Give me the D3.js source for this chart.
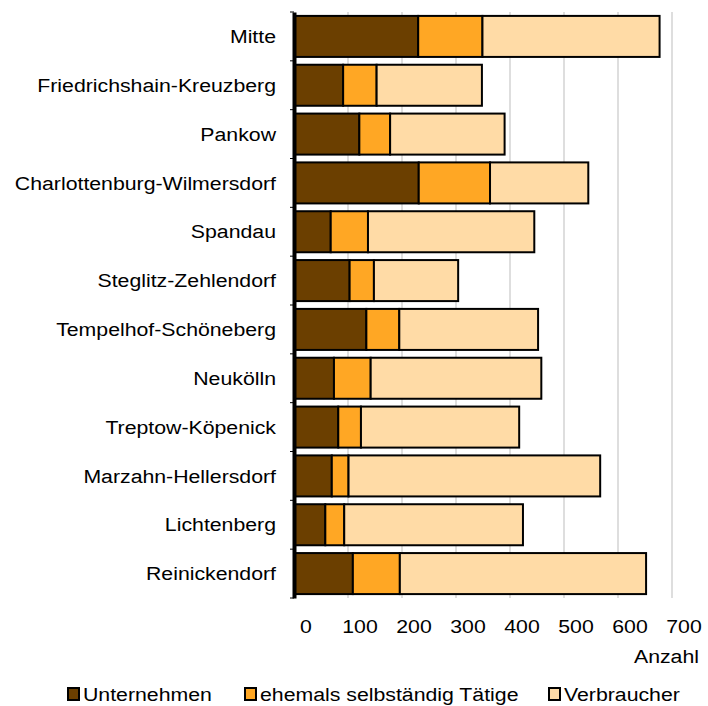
<!DOCTYPE html>
<html>
<head>
<meta charset="utf-8">
<script src="https://cdn.jsdelivr.net/npm/d3@7"></script>
<style>
  body { margin: 0; background: #fff; }
  text { font-family: "Liberation Sans", Arial, sans-serif; fill: #000; }
</style>
</head>
<body>
<svg id="chart" width="708" height="706"></svg>
<script>
// Bezirke (top to bottom)
const bezirke = ["Mitte", "Friedrichshain-Kreuzberg", "Pankow", "Charlottenburg-Wilmersdorf",
  "Spandau", "Steglitz-Zehlendorf", "Tempelhof-Schöneberg", "Neukölln",
  "Treptow-Köpenick", "Marzahn-Hellersdorf", "Lichtenberg", "Reinickendorf"];

const seriesNames = ["Unternehmen", "ehemals selbständig Tätige", "Verbraucher"];
const unternehmen = [230, 91, 121, 231, 68, 103, 134, 74, 82, 70, 58, 109];
const ehemals     = [119, 62, 57, 132, 69, 45, 61, 68, 42, 31, 35, 87];
const verbraucher = [328, 195, 212, 182, 308, 156, 257, 316, 293, 466, 331, 456];
const xTicks = [0, 100, 200, 300, 400, 500, 600, 700];
const colors = ["#6b3f00", "#ffa724", "#ffdba6"];

const svg = d3.select("#chart");
const m = {top: 12, left: 294, right: 36, bottom: 108};
const W = 708, H = 706;
const sx = 1.12; // text in the original is slightly stretched horizontally
const fs = "19px";

const x = d3.scaleLinear().domain([0, 700]).range([m.left, W - m.right]);
const y = d3.scaleBand().domain(bezirke).range([m.top, H - m.bottom]).paddingInner(0.16).paddingOuter(0.08);

const rows = bezirke.map((b, i) => ({bezirk: b, Unternehmen: unternehmen[i],
  "ehemals selbständig Tätige": ehemals[i], Verbraucher: verbraucher[i]}));
const stacked = d3.stack().keys(seriesNames)(rows);

// gridlines
svg.append("g").selectAll("line").data(xTicks.slice(1)).join("line")
  .attr("x1", d => x(d)).attr("x2", d => x(d))
  .attr("y1", m.top).attr("y2", H - m.bottom)
  .attr("stroke", "#bdbdbd").attr("stroke-width", 1);

// bars
svg.append("g").selectAll("g").data(stacked).join("g")
  .attr("fill", (d, i) => colors[i])
  .selectAll("rect").data(d => d).join("rect")
    .attr("x", d => x(d[0]))
    .attr("y", d => y(d.data.bezirk))
    .attr("width", d => x(d[1]) - x(d[0]))
    .attr("height", y.bandwidth())
    .attr("stroke", "#000").attr("stroke-width", 2);

// y axis
const yAxis = svg.append("g").attr("transform", `translate(${m.left},0)`)
  .call(d3.axisLeft(y).tickSize(0).tickPadding(18));
yAxis.select(".domain").attr("stroke", "#000").attr("stroke-width", 4);
yAxis.selectAll("text").style("font-size", fs).attr("dy", "0.35em")
  .attr("x", -18 / sx).attr("transform", `scale(${sx},1)`);

// small ticks between categories
svg.append("g").selectAll("line").data(d3.range(bezirke.length + 1)).join("line")
  .attr("x1", m.left - 4).attr("x2", m.left)
  .attr("y1", i => m.top + i * y.step()).attr("y2", i => m.top + i * y.step())
  .attr("stroke", "#000").attr("stroke-width", 1);

// x tick labels (offset right like the original)
svg.append("g").selectAll("text").data(xTicks).join("text")
  .attr("transform", d => `translate(${x(d) + 12},633) scale(${sx},1)`)
  .attr("text-anchor", "middle").style("font-size", fs)
  .text(d => d);

svg.append("text").attr("transform", `translate(699,663) scale(${sx},1)`)
  .attr("text-anchor", "end").style("font-size", fs).text("Anzahl");

// legend
const legendX = [68, 245, 549];
const lg = svg.append("g").selectAll("g").data(seriesNames).join("g")
  .attr("transform", (d, i) => `translate(${legendX[i]},688)`);
lg.append("rect").attr("width", 11).attr("height", 12)
  .attr("fill", (d, i) => colors[i]).attr("stroke", "#000").attr("stroke-width", 2);
lg.append("text").attr("transform", `translate(15,13) scale(${sx},1)`)
  .style("font-size", fs).text(d => d);
</script>
</body>
</html>
